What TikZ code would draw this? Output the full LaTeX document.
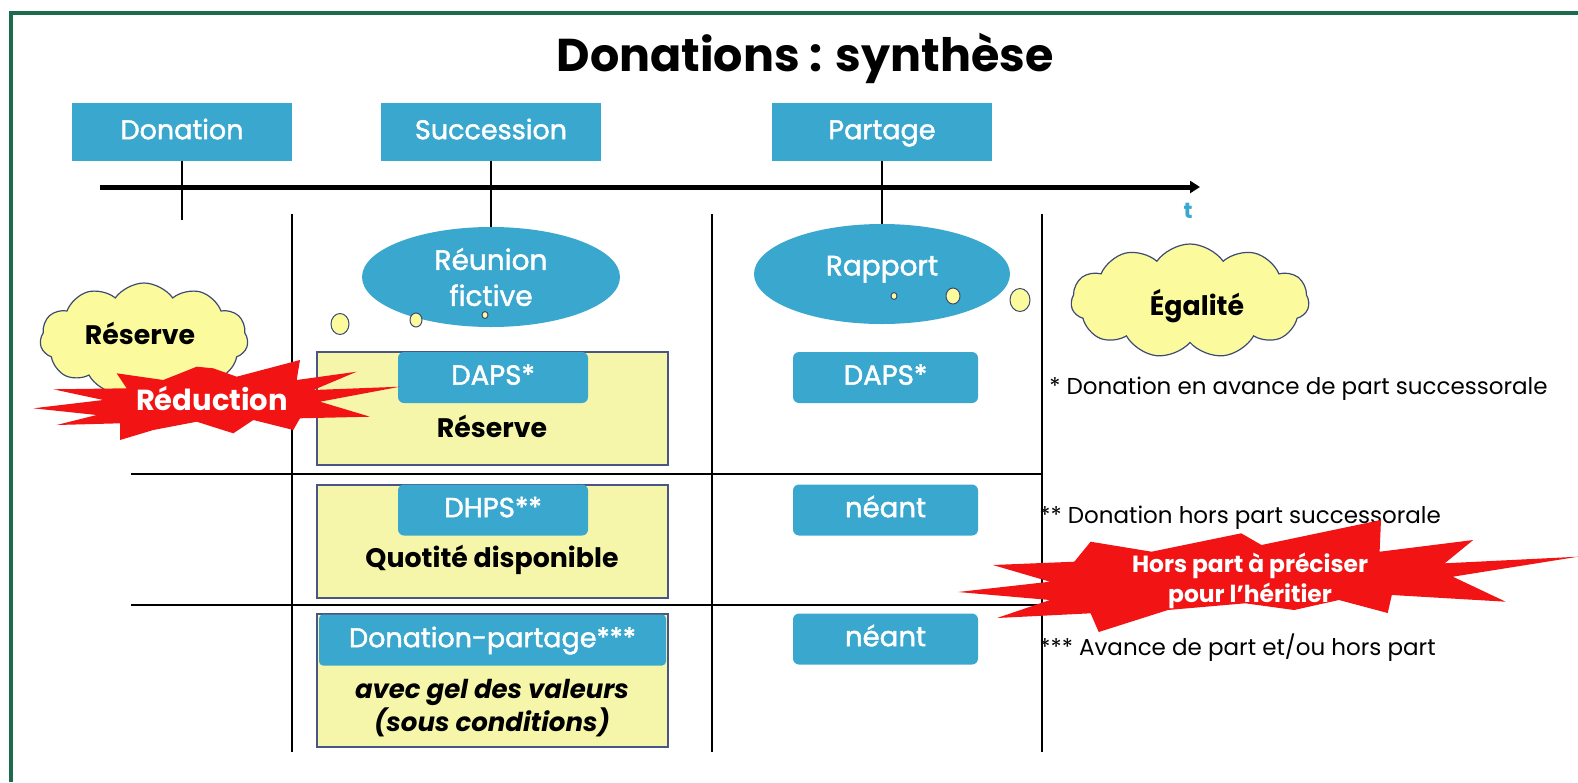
\documentclass[tikz,border=0pt]{standalone}
\usepackage{fontspec}
\setmainfont{Poppins}
\newfontfamily\medfont{Poppins}[FakeBold=1.6]
\usetikzlibrary{shapes.geometric,shapes.symbols,arrows.meta}
\definecolor{frameg}{HTML}{1B6B4C}
\definecolor{bblue}{HTML}{3AA7CF}
\definecolor{ryellow}{HTML}{F6F6AA}
\definecolor{cyell}{HTML}{FBFB9E}
\definecolor{cline}{HTML}{3E4A72}
\definecolor{rborder}{HTML}{4B5585}
\definecolor{bred}{HTML}{F21414}
\begin{document}
\begin{tikzpicture}[x=0.5pt,y=-0.5pt,
 topbox/.style={fill=bblue,text=white,minimum width=110pt,minimum height=29pt,inner sep=0pt,text height=0.72em,text depth=0pt,font=\medfont\fontsize{13.5}{15}\selectfont},
 tagbox/.style={fill=bblue,text=white,rounded corners=3pt,minimum height=25.5pt,inner sep=0pt,text height=0.72em,text depth=0pt,font=\medfont\fontsize{13.8}{15}\selectfont},
 ybox/.style={fill=ryellow,draw=rborder,line width=0.6pt,minimum width=175.5pt,inner sep=0pt},
 bubble/.style={ellipse,fill=bblue,text=white,inner sep=0pt,align=center,font=\medfont\fontsize{14}{18}\selectfont},
 dot/.style={ellipse,fill=cyell,draw=cline,line width=0.5pt,inner sep=0pt},
 cloudy/.style={cloud,cloud puffs=11,cloud puff arc=110,fill=cyell,draw=cline,line width=0.6pt,inner sep=0pt},
 sep/.style={line width=0.6pt},
 body/.style={inner sep=0pt,font=\bfseries\fontsize{13.4}{15}\selectfont},
 foot/.style={anchor=west,inner sep=0pt,font=\fontsize{11.5}{13}\selectfont},
 bursttext/.style={text=white,inner sep=0pt,align=center,font=\bfseries\fontsize{11.7}{15}\selectfont}
]
\useasboundingbox (0,0) rectangle (1578,782);
% frame
\coordinate (fbl) at (11,782);
\coordinate (ftl) at (11,13);
\coordinate (ftr) at (1578,13);
\draw[frameg,line width=2pt] (fbl) -- (ftl) -- (ftr);
% title
\node[font=\bfseries\fontsize{23}{26}\selectfont] (title) at (805,58) {Donations : synthèse};
% top boxes
\node[topbox] (don) at (182,132) {Donation};
\node[topbox] (suc) at (491,132) {Succession};
\node[topbox] (par) at (882,132) {Partage};
% axis
\coordinate (ax0) at (100,187);
\coordinate (ax1) at (1200,187);
\draw[line width=2.5pt,-{Triangle[length=5pt,width=6pt]}] (ax0) -- (ax1);
\node[text=bblue,font=\bfseries\fontsize{11}{12}\selectfont] (t) at (1188,211) {t};
% separators
\coordinate (v1t) at (292,214); \coordinate (v1b) at (292,752);
\coordinate (v2t) at (712,214); \coordinate (v2b) at (712,752);
\coordinate (v3t) at (1042,214); \coordinate (v3b) at (1042,752);
\draw[sep] (v1t) -- (v1b);
\draw[sep] (v2t) -- (v2b);
\draw[sep] (v3t) -- (v3b);
\coordinate (h1l) at (131,474); \coordinate (h1r) at (1042,474);
\coordinate (h2l) at (131,605); \coordinate (h2r) at (1042,605);
\draw[sep] (h1l) -- (h1r);
\draw[sep] (h2l) -- (h2r);
% ellipses
\node[bubble,minimum width=129pt,minimum height=50pt] (reu) at (491,277) {Réunion\\fictive};
\node[bubble,minimum width=128pt,minimum height=50pt,text height=0.74em,text depth=0.6em] (rap) at (882,274) {Rapport};
\coordinate (donend) at (182,220);
\draw[sep] (don.south) -- (donend);
\draw[sep] (suc.south) -- (reu.north);
\draw[sep] (par.south) -- (rap.north);
% thought dots
\node[dot,minimum width=3pt,minimum height=3.5pt] (d1) at (485,315) {};
\node[dot,minimum width=6pt,minimum height=7pt] (d2) at (416,320) {};
\node[dot,minimum width=9pt,minimum height=10.5pt] (d3) at (340,324) {};
\node[dot,minimum width=3pt,minimum height=3.5pt] (d4) at (894,296) {};
\node[dot,minimum width=7pt,minimum height=8pt] (d5) at (953,296) {};
\node[dot,minimum width=10pt,minimum height=11.5pt] (d6) at (1020,300) {};
% clouds
\node[cloudy,minimum width=104pt,minimum height=56pt] (cres) at (144,339) {};
\node[body] (cresT) at (140,333) {Réserve};
\node[cloudy,minimum width=119pt,minimum height=57pt] (cega) at (1190,301) {};
\node[body] (cegaT) at (1197,306) {Égalité};
% yellow boxes
\node[ybox,minimum height=56.5pt] (y1) at (492.5,408.5) {};
\node[ybox,minimum height=56.5pt] (y2) at (492.5,541.5) {};
\node[ybox,minimum height=66.5pt] (y3) at (492.5,680.5) {};
\node[tagbox,minimum width=95pt] (daps1) at (493,377.5) {DAPS*};
\node[tagbox,minimum width=95pt] (dhps) at (493,510) {DHPS**};
\node[tagbox,minimum width=173.5pt,rounded corners=2pt,font=\medfont\fontsize{13.5}{15}\selectfont] (dpart) at (492.5,640) {Donation-partage***};
\node[body] (t1) at (492,426) {Réserve};
\node[body] (t2) at (492,560) {Quotité disponible};
\node[body,font=\bfseries\itshape\fontsize{13}{15}\selectfont] (t3) at (492,692) {avec gel des valeurs};
\node[body,font=\bfseries\itshape\fontsize{13}{15}\selectfont] (t4) at (492,722) {(sous conditions)};
% right boxes
\node[tagbox,minimum width=92.5pt] (daps2) at (885.5,377.5) {DAPS*};
\node[tagbox,minimum width=92.5pt] (neant1) at (885.5,510) {néant};
\node[tagbox,minimum width=92.5pt] (neant2) at (885.5,639) {néant};
% footnotes
\node[foot] (f1) at (1049,389) {* Donation en avance de part successorale};
\node[foot] (f2) at (1039,518) {** Donation hors part successorale};
\node[foot] (f3) at (1039,648) {*** Avance de part et/ou hors part};
% burst 1
\fill[bred] (33.3,408.3) -- (103.3,400) -- (53.3,389.3) -- (126.7,388.3) -- (116.7,373.3) -- (163.3,380) -- (196.7,366.7) -- (213.3,368.3) -- (236.7,376.7) -- (300,360) -- (296.7,380) -- (356.7,371.7) -- (313.3,390) -- (400,386.7) -- (320,401.7) -- (370,416.7) -- (300,418.3) -- (293.3,430) -- (253.3,420) -- (233.3,433.3) -- (196.7,421.7) -- (153.3,430) -- (120,440) -- (120,423.3) -- (56.7,425) -- (96.7,415) -- cycle;
\node[bursttext,font=\bfseries\fontsize{14.5}{16}\selectfont] (red) at (212,399) {Réduction};
% burst 2
\fill[bred] (958,592) -- (1049.9,581.7) -- (992.9,565) -- (1074.3,561.7) -- (1090.6,541.7) -- (1151.6,551.7) -- (1241.2,533.3) -- (1261.5,545) -- (1381,520) -- (1379.6,551.7) -- (1473.2,540) -- (1444.7,563.3) -- (1578,556.7) -- (1452.8,576.7) -- (1505.7,601.7) -- (1391.8,595) -- (1387.7,613) -- (1338.9,600) -- (1294.1,610) -- (1245.2,603.3) -- (1167.9,610) -- (1098.7,632) -- (1090.6,613.3) -- (997,618) -- (1049.9,600) -- cycle;
\node[bursttext] (hp) at (1250,581) {Hors part à préciser\\pour l’héritier};
\end{tikzpicture}
\end{document}
